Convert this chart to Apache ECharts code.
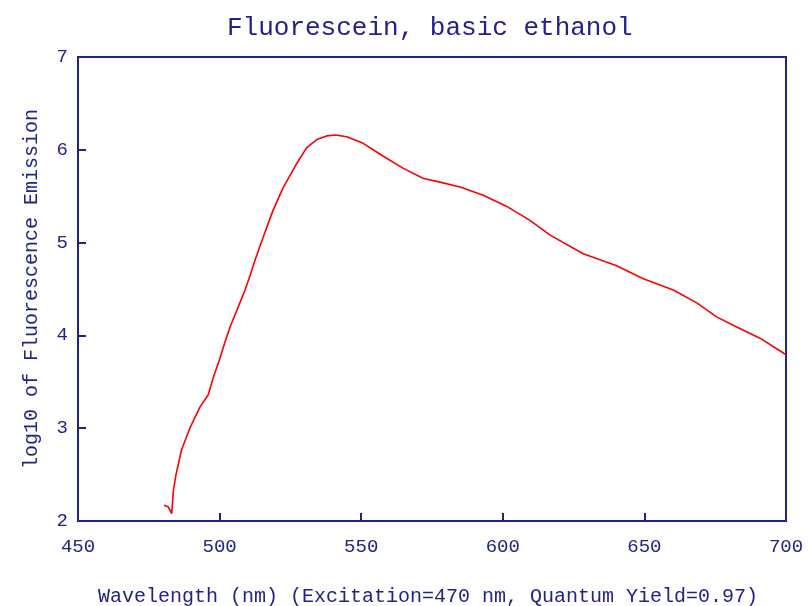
<!DOCTYPE html>
<html>
<head>
<meta charset="utf-8">
<script src="https://cdn.jsdelivr.net/npm/echarts@6/dist/echarts.min.js"></script>
<style>html,body{margin:0;padding:0;background:#fff;}#chart{width:808px;height:606px;}</style>
</head>
<body>
<div id="chart"></div>
<script>
var wavelengths = [480.4, 481.9, 483.1, 483.7, 484.6, 486.6, 489.5, 493.1, 496.0, 497.8, 500.1, 501.9, 503.7, 506.6, 509.0, 510.7, 512.5, 515.4, 518.9, 522.4, 527.2, 530.7, 534.3, 537.8, 541.0, 544.9, 550.7, 557.8, 564.9, 572.0, 576.7, 584.9, 593.1, 601.4, 609.6, 616.7, 628.4, 640.2, 649.6, 660.2, 668.5, 675.5, 682.6, 690.8, 699.1, 700.0];
var logEmission = [2.17, 2.15, 2.08, 2.33, 2.50, 2.77, 3.00, 3.23, 3.36, 3.55, 3.75, 3.93, 4.09, 4.31, 4.49, 4.64, 4.81, 5.06, 5.35, 5.59, 5.85, 6.02, 6.11, 6.15, 6.16, 6.14, 6.07, 5.93, 5.80, 5.69, 5.66, 5.60, 5.51, 5.39, 5.24, 5.08, 4.88, 4.75, 4.61, 4.49, 4.35, 4.20, 4.09, 3.97, 3.81, 3.79];
var titleText = 'Fluorescein, basic ethanol';
var xName = 'Wavelength (nm) (Excitation=470 nm, Quantum Yield=0.97)';
var yName = 'log10 of Fluorescence Emission';

var navy = '#22228c';
var font = 'Liberation Mono';
var seriesData = wavelengths.map(function (w, i) { return [w, logEmission[i]]; });

var chart = echarts.init(document.getElementById('chart'));
chart.setOption({
  animation: false,
  backgroundColor: '#ffffff',
  title: {
    text: titleText,
    left: 222, top: 10,
    textStyle: { color: navy, fontFamily: font, fontSize: 26, fontWeight: 'normal' }
  },
  grid: { left: 78, right: 22, top: 57, bottom: 85, outerBoundsMode: 'none', containLabel: false, show: true, borderColor: navy, borderWidth: 2, backgroundColor: 'transparent' },
  xAxis: {
    type: 'value', min: 450, max: 700, interval: 50,
    name: xName, nameLocation: 'middle', nameGap: 66,
    nameTextStyle: { color: navy, fontFamily: font, fontSize: 20, padding: [0, 8, 0, 0] },
    axisLine: { show: true, lineStyle: { color: navy, width: 2 } },
    axisTick: { show: true, inside: true, length: 8, lineStyle: { color: navy, width: 2 } },
    axisLabel: { color: navy, fontFamily: font, fontSize: 19, margin: 16 },
    splitLine: { show: false }
  },
  yAxis: {
    type: 'value', min: 2, max: 7, interval: 1,
    name: yName, nameLocation: 'middle', nameGap: 36,
    nameTextStyle: { color: navy, fontFamily: font, fontSize: 20 },
    axisLine: { show: true, lineStyle: { color: navy, width: 2 } },
    axisTick: { show: true, inside: true, length: 8, lineStyle: { color: navy, width: 2 } },
    axisLabel: { color: navy, fontFamily: font, fontSize: 19, margin: 10 },
    splitLine: { show: false }
  },
  series: [{
    type: 'line', data: seriesData, showSymbol: false, smooth: false,
    lineStyle: { color: '#ff0000', width: 1.6 }
  }]
});
</script>
</body>
</html>
